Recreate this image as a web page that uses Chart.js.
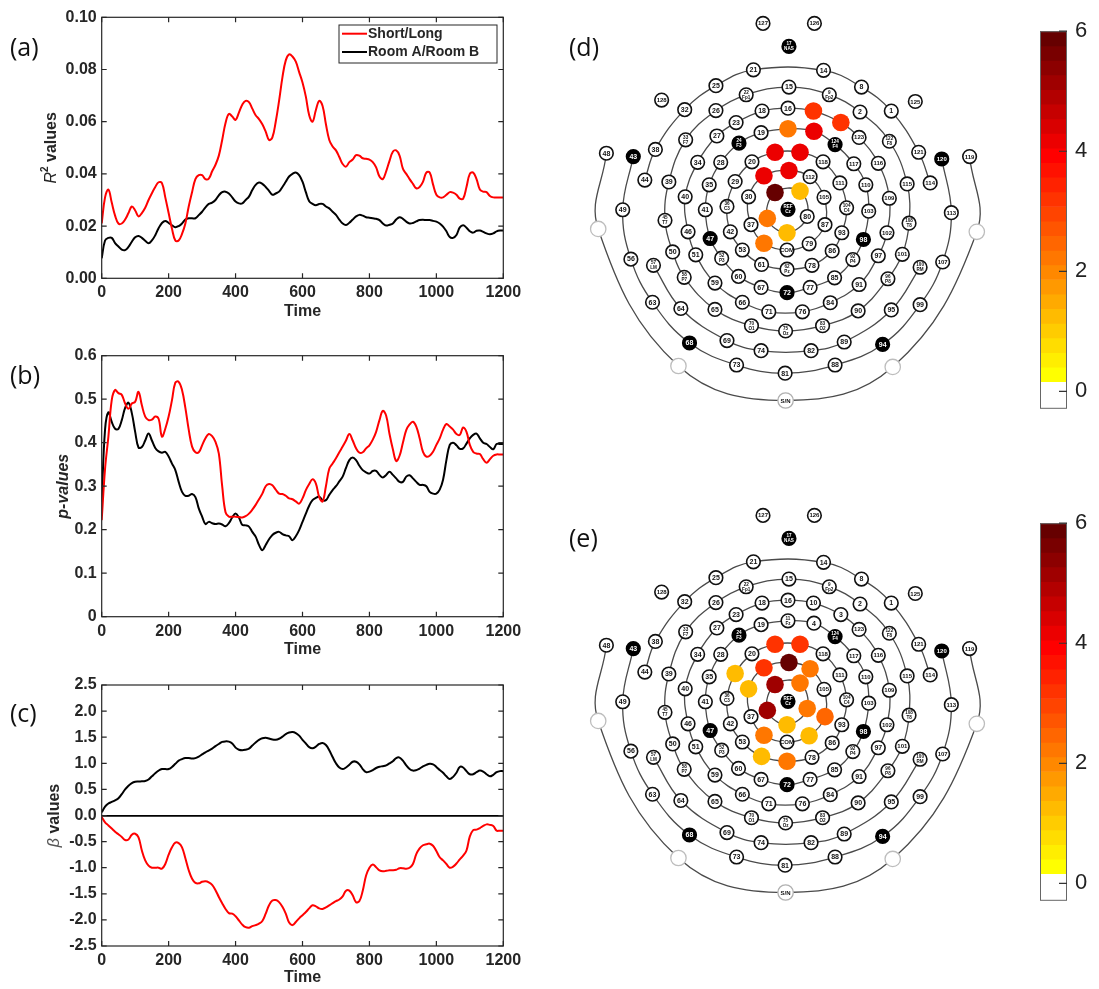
<!DOCTYPE html>
<html>
<head>
<meta charset="utf-8">
<script src="https://cdn.jsdelivr.net/npm/chart.js@4.4.1/dist/chart.umd.min.js"></script>
<style>
  body { margin:0; background:#fff; width:1099px; height:989px; overflow:hidden; position:relative; }
  canvas { position:absolute; }
  .panel { position:absolute; font:25px 'Open Sans', sans-serif; line-height:25px; color:#111; }
</style>
</head>
<body>
<canvas id="chartA" width="560" height="330" style="left:0;top:0"></canvas>
<canvas id="chartB" width="560" height="332" style="left:0;top:330px"></canvas>
<canvas id="chartC" width="560" height="327" style="left:0;top:662px"></canvas>
<canvas id="mapD" width="460" height="432" style="left:570px;top:0"></canvas>
<canvas id="mapE" width="460" height="432" style="left:570px;top:492px"></canvas>
<canvas id="barD" width="69" height="420" style="left:1030px;top:10px"></canvas>
<canvas id="barE" width="69" height="420" style="left:1030px;top:502px"></canvas>
<div class="panel" style="left:10px;top:34px">(a)</div>
<div class="panel" style="left:10px;top:362px">(b)</div>
<div class="panel" style="left:10px;top:700px">(c)</div>
<div class="panel" style="left:569px;top:34px">(d)</div>
<div class="panel" style="left:569px;top:525px">(e)</div>
<script>
// ---- time series (sampled every 10 time units, 0..1200) ----
const timeSteps = [];
for (let t = 0; t <= 1200; t += 10) timeSteps.push(t);

const r2Short = [
  0.021,0.031,0.034,0.029,0.024,0.021,0.021,0.0225,0.025,0.0275,
  0.026,0.0237,0.025,0.027,0.030,0.0326,0.035,0.0368,0.0365,0.031,
  0.025,0.019,0.0145,0.0145,0.017,0.021,0.0275,0.033,0.038,0.0395,
  0.0395,0.038,0.0382,0.041,0.0435,0.047,0.053,0.0595,0.063,0.062,
  0.0607,0.0635,0.0665,0.068,0.0675,0.065,0.0625,0.061,0.059,0.0562,
  0.053,0.054,0.060,0.068,0.077,0.0835,0.0858,0.085,0.083,0.079,
  0.075,0.0696,0.0625,0.060,0.0645,0.068,0.066,0.059,0.053,0.0505,
  0.049,0.0465,0.0438,0.0428,0.0445,0.0455,0.0472,0.047,0.046,0.0458,
  0.0455,0.0445,0.0425,0.039,0.038,0.041,0.045,0.0485,0.049,0.047,
  0.042,0.040,0.038,0.0362,0.0345,0.035,0.037,0.0405,0.0405,0.036,
  0.032,0.031,0.031,0.032,0.033,0.0328,0.032,0.0305,0.0305,0.035,
  0.040,0.0405,0.038,0.034,0.0332,0.033,0.0315,0.031,0.031,0.031,
  0.031];
const r2Room = [
  0.0077,0.0145,0.0155,0.0155,0.0135,0.0122,0.011,0.0108,0.012,0.014,
  0.0157,0.0162,0.0155,0.0144,0.0134,0.0145,0.0165,0.0192,0.0212,0.022,
  0.0212,0.0203,0.0196,0.020,0.021,0.0225,0.023,0.023,0.023,0.0242,
  0.0255,0.0272,0.0285,0.029,0.030,0.0318,0.033,0.0332,0.0325,0.031,
  0.0294,0.0287,0.0287,0.030,0.0313,0.0338,0.0358,0.0367,0.0362,0.035,
  0.0335,0.032,0.0325,0.0332,0.035,0.037,0.039,0.040,0.0405,0.0395,
  0.037,0.033,0.0295,0.0285,0.028,0.0285,0.0285,0.0275,0.0268,0.0255,
  0.0243,0.0225,0.021,0.0204,0.0213,0.0225,0.0237,0.0243,0.024,0.0234,
  0.0232,0.023,0.0228,0.0223,0.021,0.0202,0.0205,0.021,0.0225,0.0234,
  0.0228,0.0217,0.021,0.0212,0.0218,0.0223,0.0224,0.0223,0.0223,0.022,
  0.0217,0.021,0.0198,0.018,0.0158,0.0155,0.0166,0.0195,0.0203,0.0194,
  0.018,0.0175,0.0182,0.0183,0.0178,0.0172,0.0169,0.0172,0.018,0.0183,
  0.0183];
const pShort = [
  0.222,0.34,0.414,0.498,0.521,0.514,0.51,0.49,0.478,0.49,
  0.494,0.517,0.486,0.46,0.452,0.453,0.46,0.455,0.414,0.432,
  0.46,0.498,0.538,0.54,0.521,0.48,0.43,0.391,0.378,0.378,
  0.394,0.41,0.42,0.415,0.402,0.375,0.30,0.24,0.23,0.23,
  0.23,0.229,0.228,0.231,0.237,0.246,0.257,0.27,0.283,0.30,
  0.305,0.302,0.292,0.283,0.282,0.278,0.272,0.27,0.265,0.26,
  0.272,0.291,0.305,0.316,0.306,0.275,0.265,0.30,0.34,0.352,
  0.364,0.378,0.391,0.405,0.42,0.405,0.387,0.377,0.378,0.387,
  0.394,0.407,0.425,0.452,0.473,0.462,0.42,0.385,0.358,0.37,
  0.40,0.429,0.442,0.448,0.437,0.41,0.379,0.368,0.37,0.379,
  0.395,0.41,0.43,0.443,0.437,0.43,0.42,0.418,0.435,0.425,
  0.395,0.379,0.375,0.374,0.362,0.354,0.362,0.37,0.373,0.373,
  0.373];
const pRoom = [
  0.264,0.43,0.47,0.448,0.432,0.432,0.452,0.48,0.492,0.468,
  0.425,0.389,0.39,0.405,0.421,0.405,0.388,0.38,0.377,0.379,
  0.368,0.352,0.337,0.31,0.287,0.278,0.278,0.282,0.275,0.249,
  0.23,0.213,0.218,0.215,0.213,0.214,0.212,0.208,0.215,0.228,
  0.237,0.228,0.211,0.21,0.207,0.195,0.184,0.165,0.153,0.165,
  0.178,0.188,0.193,0.195,0.19,0.187,0.185,0.176,0.185,0.199,
  0.218,0.237,0.255,0.268,0.273,0.276,0.268,0.268,0.28,0.291,
  0.30,0.311,0.322,0.342,0.36,0.366,0.36,0.347,0.337,0.332,
  0.329,0.335,0.335,0.326,0.32,0.326,0.333,0.326,0.318,0.31,
  0.31,0.322,0.325,0.318,0.31,0.303,0.303,0.30,0.287,0.283,
  0.283,0.292,0.315,0.36,0.395,0.40,0.394,0.386,0.387,0.398,
  0.41,0.418,0.421,0.41,0.40,0.397,0.39,0.385,0.397,0.397,
  0.397];
const betaShort = [
  -0.03,-0.13,-0.19,-0.25,-0.31,-0.36,-0.41,-0.47,-0.46,-0.37,
  -0.35,-0.42,-0.67,-0.86,-0.96,-1.0,-1.0,-1.0,-1.02,-0.93,
  -0.75,-0.61,-0.52,-0.53,-0.61,-0.82,-1.05,-1.21,-1.29,-1.3,
  -1.27,-1.26,-1.28,-1.33,-1.43,-1.56,-1.68,-1.79,-1.87,-1.88,
  -1.93,-2.01,-2.09,-2.14,-2.15,-2.12,-2.1,-2.07,-2.02,-1.88,
  -1.72,-1.63,-1.62,-1.66,-1.75,-1.88,-2.05,-2.1,-2.04,-1.97,
  -1.91,-1.85,-1.78,-1.72,-1.74,-1.78,-1.79,-1.76,-1.72,-1.68,
  -1.64,-1.61,-1.55,-1.44,-1.44,-1.53,-1.66,-1.64,-1.44,-1.15,
  -1.0,-0.94,-0.99,-1.05,-1.07,-1.06,-1.05,-1.05,-1.04,-1.01,
  -1.01,-1.02,-1.0,-0.93,-0.74,-0.63,-0.57,-0.55,-0.54,-0.58,
  -0.68,-0.8,-0.86,-0.93,-1.0,-0.98,-0.92,-0.84,-0.77,-0.67,
  -0.4,-0.28,-0.27,-0.24,-0.2,-0.17,-0.18,-0.2,-0.29,-0.29,
  -0.29];
const betaRoom = [
  0.06,0.17,0.23,0.26,0.29,0.33,0.41,0.5,0.57,0.62,
  0.645,0.65,0.655,0.66,0.69,0.75,0.81,0.86,0.89,0.89,
  0.89,0.93,0.99,1.05,1.08,1.1,1.1,1.09,1.1,1.13,
  1.17,1.21,1.245,1.28,1.33,1.37,1.41,1.42,1.415,1.38,
  1.3,1.26,1.25,1.26,1.28,1.34,1.4,1.45,1.48,1.49,
  1.475,1.455,1.45,1.47,1.51,1.56,1.59,1.6,1.58,1.53,
  1.45,1.38,1.31,1.29,1.32,1.37,1.39,1.35,1.25,1.12,
  1.0,0.92,0.89,0.92,0.97,1.03,1.03,0.98,0.89,0.83,
  0.84,0.87,0.91,0.935,0.945,0.96,1.0,1.04,1.1,1.11,
  1.05,0.96,0.89,0.86,0.87,0.9,0.94,0.97,0.99,0.98,
  0.93,0.87,0.82,0.75,0.70,0.74,0.82,0.93,0.92,0.85,
  0.79,0.79,0.83,0.86,0.84,0.79,0.75,0.78,0.83,0.85,
  0.85];

// ---- electrode layout (flat 128-channel net, Cz at origin, y up) ----
const elecIds = ['127','126','17','21','14','25','15','8','128','22','9','125','32','26','18','16','10','2','1','23','3','19','11','4',
  '33','27','24','124','123','122','48','43','38','121','120','119','34','28','20','12','5','118','117','116',
  '44','39','35','29','13','6','112','111','110','115','114','40','30','7','106','105','109','49','41','36','REF','80','104','103','113',
  'G1','G2','45','108','46','47','42','37','31','55','87','93','98','102','54','79','COM','50','51','52','53','86','92','97','101',
  '56','57','107','100','58','59','60','61','62','78','85','91','96','67','72','77','63','64','65','66','71','76','84','90','95','99',
  '70','75','83','68','69','74','82','89','94','G3','73','81','88','G4','SN'];
const elecX = [-26,27.5,1,-36,37,-75,1,76.5,-131.5,-43.5,43,132.5,-107.5,-75,-27,0,26.5,75,107.5,-54,55,-28,0,27,
  -106.5,-74,-51,49,74,105.5,-189,-161,-138,136,160,189,-94,-70,-37.5,-13.5,12.5,36.5,68.5,94,
  -149,-124,-82,-55,-25,1,23,54,81,124,148,-107,-41,-13.5,12.5,37.5,105.5,-172,-86,-63.5,0,20,61,84,170,
  -197.5,196.5,-128,126,-104,-81,-60,-38.5,-21.5,-1,38.5,56,78.5,103,-25,22,-1,-120,-96,-69,-47.5,46,67.5,94,119,
  -163.5,-140,161,137.5,-108,-76,-51.5,-27.5,-1,25,48.5,74,104,-28,-1,23,-141,-111.5,-76,-47.5,-20,15,44,73,107.5,137.5,
  -38,-2.5,36,-102.5,-63.5,-28,24,58.5,98.5,-114,-53.5,-3,49,109,-2.5];
const elecY = [194,194,170,145.5,145,129,127.5,127.5,114,119.5,119.5,112.5,104,103,102.5,105.5,102.5,101.5,102.5,90.5,90.5,80,84,81.5,
  72.5,76.5,69,67.5,75,71,58.5,55,62.5,59.5,52.5,55,49,49,49.5,59.5,59.5,49.5,47.5,48,
  30.5,28.5,25.5,29,35,40.5,34,27.5,25.5,26.5,27.5,13,13,17.5,19,12.5,11.5,-0.5,-0.5,3,0,-7.5,1.5,-2,-3.5,
  -20.5,-23.5,-11.5,-14.5,-23.5,-30.5,-23.5,-16,-9.5,-24.5,-16,-24.5,-31.5,-24.5,-35.5,-36,-42.5,-44.5,-47.5,-51,-42.5,-43.5,-52.5,-48.5,-47,
  -52,-58.5,-55,-60.5,-71,-77,-70,-57.5,-62.5,-58.5,-71.5,-78.5,-72.5,-81.5,-87,-81.5,-97,-103.5,-104.5,-97,-107,-107,-97.5,-106,-105,-99.5,
  -121.5,-127,-121.5,-139.5,-137,-147.5,-147.5,-138.5,-141,-163.5,-162.5,-171,-162.5,-164.5,-199.5];
const subIds = ['17','22','9','33','24','11','124','122','36','REF','104','45','108','52','62','92','57','100','58','96','70','75','83'];
const subNames = ['NAS','Fp1','Fp2','F7','F3','Fz','F4','F8','C3','Cz','C4','T7','T8','P3','Pz','P4','LM','RM','P7','P8','O1','Oz','O2'];
const blackIds = ['17','24','124','43','120','47','98','68','94','72','REF'];
const groundIds = ['G1','G2','G3','G4'];

// rings of the net (closed loops and open arcs)
const closedRings = [
  ['7','106','80','55','31'],
  ['6','112','105','87','79','COM','54','37','30','13'],
  ['12','5','118','111','104','93','86','78','62','61','53','42','36','29','20'],
  ['11','4','124','117','110','103','98','92','85','77','72','67','60','52','47','41','35','28','24','19'],
  ['16','10','3','123','116','109','102','97','91','84','76','71','66','59','51','46','40','34','27','23','18'],
  ['15','9','2','122','115','108','101','96','90','83','75','70','65','58','50','45','39','33','26','22']];
const openArcs = [
  ['44','38','32','25','21','14','8','1','121','114'],
  ['57','64','69','74','82','89','95','100'],
  ['43','49','56','63','68','73','81','88','94','99','107','113','120'],
  ['48','G1','G3','SN','G4','G2','119']];

// significant electrodes and their values
const activeD = ['10','3','11','4','12','5','13','6','7','106','31','55','54'];
const activeDVal = [3.2,3.2,2.2,4.2,4.2,4.2,4.2,4.2,5.9,1.3,2.2,1.3,2.2];
const activeE = ['12','5','6','13','112','29','7','106','30','31','80','87','55','54','79','61','62'];
const activeEVal = [3.2,3.2,5.9,3.2,2.2,1.3,5.1,2.2,1.3,5.1,2.2,2.5,1.3,2.2,1.3,1.3,2.2];

// colour scale
const cbTicks = [0, 2, 4, 6];
const cbMin = -0.29, cbMax = 6, cbWhiteTop = 0.16;
const hotColors = ['#660000','#790000','#8c0000','#9f0000','#b30000','#c60000','#d90000','#ec0000','#ff0000',
  '#ff1100','#ff2200','#ff3300','#ff4400','#ff5500','#ff6600','#ff7700','#ff8800','#ff9900','#ffaa00',
  '#ffbb00','#ffcc00','#ffdd00','#ffee00','#ffff00'];

const FONT = "'Liberation Sans', Arial, Helvetica, sans-serif";
const INK = '#262626';
Chart.defaults.font.family = FONT;
Chart.defaults.color = INK;

const bandW = (cbMax - cbWhiteTop) / hotColors.length;
function valueColor(v) {
  const k = Math.min(hotColors.length - 1, Math.max(0, Math.floor((cbMax - v) / bandW)));
  return hotColors[k];
}

// ---- plugins ----
const boxFrame = {
  id: 'boxFrame',
  afterDatasetsDraw(chart) {
    const {ctx, chartArea: a, scales: {x, y}} = chart;
    ctx.save();
    ctx.strokeStyle = INK;
    ctx.lineWidth = 1.2;
    ctx.strokeRect(a.left, a.top, a.right - a.left, a.bottom - a.top);
    ctx.beginPath();
    x.ticks.forEach(t => {
      const px = x.getPixelForValue(t.value);
      ctx.moveTo(px, a.bottom); ctx.lineTo(px, a.bottom - 5);
      ctx.moveTo(px, a.top); ctx.lineTo(px, a.top + 5);
    });
    y.ticks.forEach(t => {
      const py = y.getPixelForValue(t.value);
      ctx.moveTo(a.left, py); ctx.lineTo(a.left + 5, py);
      ctx.moveTo(a.right, py); ctx.lineTo(a.right - 5, py);
    });
    ctx.stroke();
    ctx.restore();
  }
};

function yTitle(parts, offset) {
  return {
    id: 'yTitle',
    afterDraw(chart) {
      const {ctx, chartArea: a} = chart;
      ctx.save();
      ctx.translate(a.left - offset, (a.top + a.bottom) / 2);
      ctx.rotate(-Math.PI / 2);
      ctx.textBaseline = 'middle';
      let total = 0;
      parts.forEach(p => { ctx.font = p.font; total += ctx.measureText(p.text).width; });
      let px = -total / 2;
      parts.forEach(p => {
        ctx.font = p.font;
        ctx.fillStyle = p.color || INK;
        ctx.fillText(p.text, px, p.dy || 0);
        px += ctx.measureText(p.text).width;
      });
      ctx.restore();
    }
  };
}

const insideLegend = {
  id: 'insideLegend',
  afterDraw(chart) {
    const {ctx, chartArea: a} = chart;
    const w = 158, h = 38, x0 = a.right - 6.3 - w, y0 = a.top + 7.7;
    ctx.save();
    ctx.fillStyle = '#fff';
    ctx.fillRect(x0, y0, w, h);
    ctx.strokeStyle = INK;
    ctx.lineWidth = 1;
    ctx.strokeRect(x0, y0, w, h);
    ctx.font = 'bold 14px ' + FONT;
    ctx.textBaseline = 'middle';
    chart.data.datasets.forEach((ds, i) => {
      const ly = y0 + 8.7 + i * 18.3;
      ctx.strokeStyle = ds.borderColor;
      ctx.lineWidth = 2;
      ctx.beginPath(); ctx.moveTo(x0 + 3, ly); ctx.lineTo(x0 + 28, ly); ctx.stroke();
      ctx.fillStyle = INK;
      ctx.fillText(ds.label, x0 + 29, ly + 0.5);
    });
    ctx.restore();
  }
};

function series(vals) { return timeSteps.map((t, i) => ({x: t, y: vals[i]})); }

function makeLine(id, cfg) {
  const plugins = [boxFrame, yTitle(cfg.yParts, cfg.yOffset)];
  if (cfg.legend) plugins.push(insideLegend);
  return new Chart(document.getElementById(id), {
    type: 'line',
    data: {
      datasets: [
        {label: 'Short/Long', data: series(cfg.red), borderColor: '#ff0000', borderWidth: 2, pointRadius: 0, tension: 0.4, borderJoinStyle: 'round'},
        {label: 'Room A/Room B', data: series(cfg.black), borderColor: '#000000', borderWidth: 2, pointRadius: 0, tension: 0.4, borderJoinStyle: 'round'}
      ]
    },
    options: {
      responsive: false,
      animation: false,
      events: [],
      layout: {padding: {top: cfg.padTop, right: 560 - 503.3, left: 0, bottom: 0}},
      plugins: {legend: {display: false}, tooltip: {enabled: false}},
      scales: {
        x: {
          type: 'linear', min: 0, max: 1200,
          afterFit: s => { s.height = cfg.xHeight; },
          grid: {display: false, drawTicks: false},
          border: {display: false},
          ticks: {stepSize: 200, maxRotation: 0, padding: 5, font: {size: 16, weight: 'bold'}, color: INK, callback: v => String(v)},
          title: {display: true, text: 'Time', font: {size: 16, weight: 'bold'}, color: INK, padding: {top: 0, bottom: cfg.titlePad}}
        },
        y: {
          min: cfg.yMin, max: cfg.yMax,
          afterFit: s => { s.width = 101.7; },
          grid: cfg.zeroLine
            ? {drawTicks: false, lineWidth: 1.8, color: c => (Math.abs(c.tick.value) < 1e-9 ? '#000' : 'rgba(0,0,0,0)')}
            : {display: false, drawTicks: false},
          border: {display: false},
          ticks: {stepSize: cfg.yStep, padding: 5, font: {size: 16, weight: 'bold'}, color: INK, callback: cfg.yFmt}
        }
      }
    },
    plugins: plugins
  });
}

makeLine('chartA', {
  red: r2Short, black: r2Room, yMin: 0, yMax: 0.1, yStep: 0.02,
  yFmt: v => v.toFixed(2), padTop: 17.3, xHeight: 51.7, titlePad: 8.7, legend: true,
  yOffset: 50,
  yParts: [{text: 'R', font: 'italic 16px ' + FONT}, {text: '2', font: 'bold 10px ' + FONT, dy: -6}, {text: ' values', font: 'bold 16px ' + FONT}]
});
makeLine('chartB', {
  red: pShort, black: pRoom, yMin: 0, yMax: 0.6, yStep: 0.1,
  yFmt: v => (Math.abs(v) < 1e-9 ? '0' : v.toFixed(1)), padTop: 25.7, xHeight: 45.3, titlePad: 2.4,
  yOffset: 38.4,
  yParts: [{text: 'p-values', font: 'italic bold 16px ' + FONT}]
});
makeLine('chartC', {
  red: betaShort, black: betaRoom, yMin: -2.5, yMax: 2.5, yStep: 0.5,
  yFmt: v => (Math.abs(v) < 1e-9 ? 0 : v).toFixed(1), padTop: 23, xHeight: 43, titlePad: 1.4, zeroLine: true,
  yOffset: 46.7,
  yParts: [{text: '\u03B2', font: 'italic 16px ' + FONT, color: '#555'}, {text: ' values', font: 'bold 16px ' + FONT}]
});

// ---- electrode maps ----
const elecPts = elecIds.map((id, i) => ({x: elecX[i], y: elecY[i]}));
function ptOf(id) { return elecPts[elecIds.indexOf(id)]; }
const RING = '#4a4a4a';

function makeMap(id, activeIds, activeVals) {
  const radius = [], fill = [], stroke = [], bw = [];
  elecIds.forEach(e => {
    const k = activeIds.indexOf(e);
    if (k >= 0) { radius.push(8.8); fill.push(valueColor(activeVals[k])); stroke.push(valueColor(activeVals[k])); bw.push(0); }
    else if (blackIds.includes(e)) { radius.push(6.8); fill.push('#000'); stroke.push('#000'); bw.push(1.6); }
    else if (groundIds.includes(e)) { radius.push(7.7); fill.push('#fff'); stroke.push('#bdbdbd'); bw.push(1.3); }
    else if (e === 'SN') { radius.push(7.7); fill.push('#fff'); stroke.push('#b0b0b0'); bw.push(1.3); }
    else { radius.push(6.8); fill.push('#fff'); stroke.push('#111'); bw.push(1.6); }
  });
  const datasets = [{
    data: elecPts, order: 0, showLine: false,
    pointRadius: radius, pointBackgroundColor: fill, pointBorderColor: stroke, pointBorderWidth: bw
  }];
  closedRings.forEach(r => {
    const pts = r.map(ptOf);
    const loop = [pts[pts.length - 1], ...pts, pts[0], pts[1]];
    const last = loop.length - 1;
    datasets.push({
      data: loop, order: 1, showLine: true, pointRadius: 0, borderColor: RING, borderWidth: 1.3, tension: 0.4,
      segment: {borderColor: c => (c.p0DataIndex === 0 || c.p1DataIndex === last ? 'rgba(0,0,0,0)' : RING)}
    });
  });
  openArcs.forEach(r => {
    datasets.push({data: r.map(ptOf), order: 1, showLine: true, pointRadius: 0, borderColor: RING, borderWidth: 1.3, tension: 0.4});
  });
  const labels = {
    id: 'elecLabels',
    afterDatasetsDraw(chart) {
      const ctx = chart.ctx;
      const meta = chart.getDatasetMeta(0);
      ctx.save();
      ctx.textAlign = 'center';
      ctx.textBaseline = 'middle';
      meta.data.forEach((pt, i) => {
        const e = elecIds[i];
        if (activeIds.includes(e) || groundIds.includes(e)) return;
        ctx.fillStyle = blackIds.includes(e) ? '#fff' : '#111';
        const s = subIds.indexOf(e);
        if (s >= 0) {
          ctx.font = 'bold 4.6px ' + FONT;
          ctx.fillText(e, pt.x, pt.y - 2.4);
          ctx.fillText(subNames[s], pt.x, pt.y + 2.6);
        } else {
          const txt = e === 'SN' ? 'S/N' : e;
          ctx.font = (txt.length > 2 ? 'bold 6px ' : 'bold 7px ') + FONT;
          ctx.fillText(txt, pt.x, pt.y + 0.4);
        }
      });
      ctx.restore();
    }
  };
  return new Chart(document.getElementById(id), {
    type: 'scatter',
    data: {datasets: datasets},
    options: {
      responsive: false, animation: false, events: [],
      layout: {padding: 0},
      plugins: {legend: {display: false}, tooltip: {enabled: false}},
      scales: {
        x: {type: 'linear', min: -217.5, max: 242.5, display: false},
        y: {type: 'linear', min: -223, max: 209, display: false}
      }
    },
    plugins: [labels]
  });
}

makeMap('mapD', activeD, activeDVal);
makeMap('mapE', activeE, activeEVal);

// ---- colour bars ----
const cbFrame = {
  id: 'cbFrame',
  afterDatasetsDraw(chart) {
    const {ctx, chartArea: a, scales: {y}} = chart;
    ctx.save();
    ctx.strokeStyle = '#666';
    ctx.lineWidth = 1;
    ctx.strokeRect(a.left + 0.5, a.top + 0.5, a.right - a.left - 1, a.bottom - a.top - 1);
    ctx.strokeStyle = '#333';
    ctx.lineWidth = 1.2;
    ctx.beginPath();
    cbTicks.forEach(v => {
      const py = y.getPixelForValue(v);
      ctx.moveTo(a.right, py); ctx.lineTo(a.right - 8, py);
    });
    ctx.stroke();
    ctx.restore();
  }
};

function makeBar(id) {
  const datasets = hotColors.map((c, i) => ({
    data: [[cbMax - (i + 1) * bandW, cbMax - i * bandW]],
    backgroundColor: c, borderWidth: 0, grouped: false, barPercentage: 1, categoryPercentage: 1
  }));
  datasets.push({data: [[cbMin, cbWhiteTop]], backgroundColor: '#fff', borderWidth: 0, grouped: false, barPercentage: 1, categoryPercentage: 1});
  return new Chart(document.getElementById(id), {
    type: 'bar',
    data: {labels: [''], datasets: datasets},
    options: {
      responsive: false, animation: false, events: [],
      layout: {padding: {left: 10, top: 20, bottom: 12, right: 0}},
      plugins: {legend: {display: false}, tooltip: {enabled: false}},
      scales: {
        x: {display: false},
        y: {
          position: 'right', min: cbMin, max: cbMax,
          afterFit: s => { s.width = 32; },
          afterBuildTicks: s => { s.ticks = cbTicks.map(v => ({value: v})); },
          grid: {display: false, drawTicks: false},
          border: {display: false},
          ticks: {padding: 8, font: {size: 22}, color: '#222'}
        }
      }
    },
    plugins: [cbFrame]
  });
}

makeBar('barD');
makeBar('barE');
</script>
</body>
</html>
